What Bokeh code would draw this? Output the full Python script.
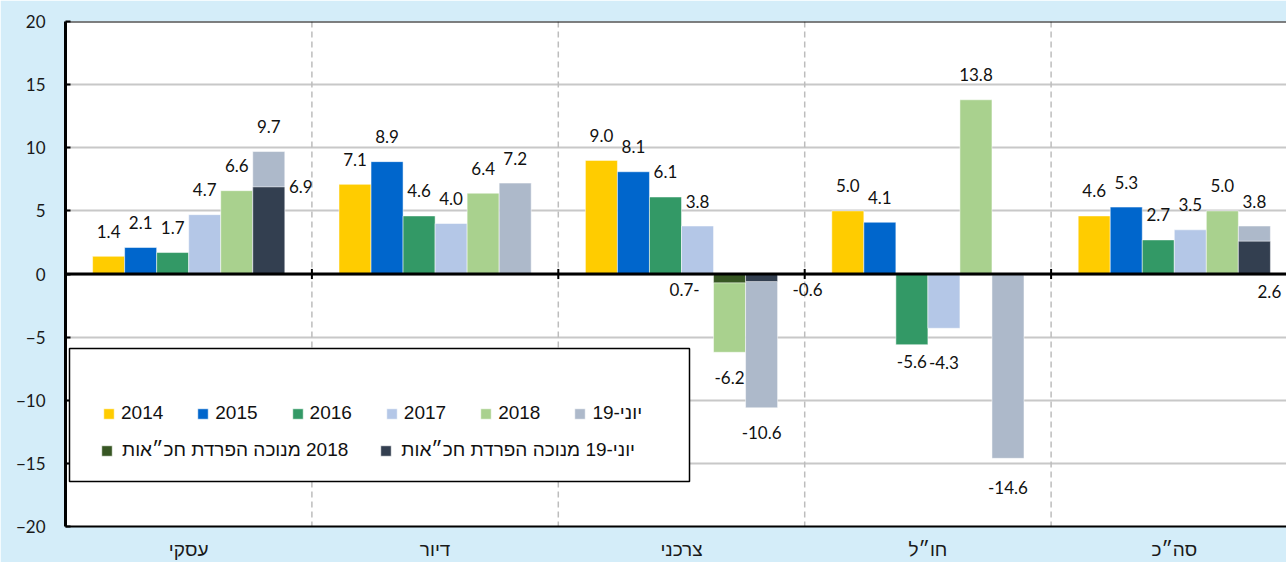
from bokeh.plotting import figure
from bokeh.models import Range1d, FixedTicker, Span, BoxAnnotation, Legend, LegendItem, ColumnDataSource
from bokeh.core.properties import value
from bokeh.embed import file_html
from bokeh.resources import INLINE

# ---------------- data ----------------
categories = ["עסקי", "דיור", "צרכני", "חו״ל", "סה״כ"]
y2014 = [1.4, 7.1, 9.0, 5.0, 4.6]
y2015 = [2.1, 8.9, 8.1, 4.1, 5.3]
y2016 = [1.7, 4.6, 6.1, -5.6, 2.7]
y2017 = [4.7, 4.0, 3.8, -4.3, 3.5]
y2018 = [6.6, 6.4, -6.2, 13.8, 5.0]
jun19 = [9.7, 7.2, -10.6, -14.6, 3.8]
y2018_adj = [None, None, -0.7, None, None]
jun19_adj = [6.9, None, -0.6, None, 2.6]
y_ticks = [-20, -15, -10, -5, 0, 5, 10, 15, 20]

base_names = ["2014", "2015", "2016", "2017", "2018", "יוני-19"]
adj_names = ["\u200f2018 מנוכה הפרדת חכ״אות", "יוני-19 מנוכה הפרדת חכ״אות"]

# ---------------- styles / layout ----------------
base_colors = ["#FFCC00", "#0066CC", "#339966", "#B4C7E7", "#A9D18E", "#ADB9CA"]
adj_colors = ["#375623", "#333F50"]
BG = "#D4EDF9"
FRAME_L, FRAME_T, FRAME_B, W, H = 65, 21, 526, 1286, 562
CAT_PX = 246.4
X_END = (W - FRAME_L) / CAT_PX
PX_PER_UNIT = (FRAME_B - FRAME_T) / 40.0
BAR_W = 0.13
NUM_FONT = "Lato"
HEB_FONT = "Liberation Sans"

def px_x(px):
    return (px - FRAME_L) / CAT_PX

def px_y(py):
    return 20 - (py - FRAME_T) / PX_PER_UNIT

# special label offsets (series key, category index) -> (dx, dy) in px
label_offsets = {
    ("adj1", 0): (32, 0),
    ("adj0", 2): (-45, 7),
    ("adj1", 2): (46, 8),
    ("adj1", 4): (15, 50),
    ("b2", 3): (0, 17),
    ("b3", 3): (0, 34),
    ("b5", 3): (0, 29),
}

p = figure(width=W, height=H, x_range=Range1d(0, X_END), y_range=Range1d(-20, 20),
           output_backend="svg", toolbar_location=None,
           min_border_left=FRAME_L, min_border_right=0, min_border_top=FRAME_T,
           min_border_bottom=H - FRAME_B)
p.border_fill_color = BG
p.background_fill_color = "white"
p.outline_line_color = None

# grid
p.xgrid.grid_line_color = None
p.ygrid.ticker = FixedTicker(ticks=y_ticks)
p.ygrid.grid_line_color = "#C8C8C8"
p.ygrid.grid_line_width = 2

# y axis
p.yaxis.ticker = FixedTicker(ticks=y_ticks)
p.yaxis.axis_line_color = "black"
p.yaxis.axis_line_width = 3
p.yaxis.major_tick_in = 5
p.yaxis.major_tick_out = 0
p.yaxis.major_tick_line_color = "black"
p.yaxis.major_tick_line_width = 2
p.yaxis.minor_tick_line_color = None
p.yaxis.major_label_text_font = NUM_FONT
p.yaxis.major_label_text_font_size = "17px"
p.yaxis.major_label_text_color = "#1a1a1a"
p.yaxis.major_label_standoff = 20

# x axis (category labels)
centers = [i + 0.5 for i in range(len(categories))]
p.xaxis.ticker = FixedTicker(ticks=centers)
p.xaxis.major_label_overrides = {c: name for c, name in zip(centers, categories)}
p.xaxis.axis_line_color = "black"
p.xaxis.axis_line_width = 2
p.xaxis.major_tick_line_color = None
p.xaxis.major_tick_in = 0
p.xaxis.major_tick_out = 0
p.xaxis.minor_tick_line_color = None
p.xaxis.minor_tick_in = 0
p.xaxis.minor_tick_out = 0
p.xaxis.major_label_text_font = HEB_FONT
p.xaxis.major_label_text_font_size = "19px"
p.xaxis.major_label_text_color = "#1a1a1a"
p.xaxis.major_label_standoff = 12

# vertical dashed separators between categories
for b in range(1, len(categories)):
    p.add_layout(Span(location=b, dimension="height", line_color="#BDBDBD",
                      line_width=1.5, line_dash="6 4", level="underlay"))

# top border
p.add_layout(Span(location=20, dimension="width", line_color="black", line_width=2))

def xpos(slot):
    return [i + 0.5 + (slot - 2.5) * BAR_W for i in range(len(categories))]

labels = {"x": [], "y": [], "text": [], "xo": [], "yo": []}

def add_series(key, slot, vals, color, rtl=False):
    xs, ys, idx = [], [], []
    for i, (x, v) in enumerate(zip(xpos(slot), vals)):
        if v is None:
            continue
        xs.append(x); ys.append(v); idx.append(i)
    r = p.vbar(x=xs, top=ys, bottom=0, width=BAR_W, fill_color=color,
               line_color="white", line_width=0.5)
    for x, v, i in zip(xs, ys, idx):
        dx, dy = label_offsets.get((key, i), (0, -25 if v >= 0 else 25))
        t = f"{v:.1f}"
        if rtl:
            t = "\u200f" + t
        labels["x"].append(x); labels["y"].append(v); labels["text"].append(t)
        labels["xo"].append(dx); labels["yo"].append(dy)
    return r

base_series = [y2014, y2015, y2016, y2017, y2018, jun19]
base_r = [add_series(f"b{k}", k, vals, c) for k, (vals, c) in enumerate(zip(base_series, base_colors))]
adj_r = [add_series("adj0", 4, y2018_adj, adj_colors[0], rtl=True),
         add_series("adj1", 5, jun19_adj, adj_colors[1])]

# zero line
p.add_layout(Span(location=0, dimension="width", line_color="black", line_width=3))
p.segment(x0=list(range(1, len(categories))), x1=list(range(1, len(categories))),
          y0=-0.4, y1=0.4, line_color="black", line_width=2)

# data labels
src = ColumnDataSource(dict(x=labels["x"], y=labels["y"], text=labels["text"],
                            xo=labels["xo"], yo=labels["yo"]))
p.text(x="x", y="y", text="text", x_offset="xo", y_offset="yo", source=src,
       text_font=value(NUM_FONT), text_font_size="17px", text_align="center",
       text_baseline="middle", text_color="#111111")

# legend frame
p.add_layout(BoxAnnotation(left=px_x(69), right=px_x(689), top=px_y(348), bottom=px_y(481),
                           fill_color="white", fill_alpha=1.0, line_color="black",
                           line_width=1.5, line_alpha=1.0))

def make_legend(items, loc, spacing, standoff):
    lg = Legend(items=items, location=loc, orientation="horizontal",
                glyph_width=13, glyph_height=13, label_height=20,
                label_standoff=standoff, spacing=spacing, padding=0, margin=0,
                border_line_color=None, background_fill_alpha=0,
                label_text_font=HEB_FONT, label_text_font_size="19px",
                label_text_color="#111111")
    return lg

row1 = make_legend([LegendItem(label=n, renderers=[r]) for n, r in zip(base_names, base_r)],
                   (102 - FRAME_L, FRAME_B - 424), 33, 6)
row2 = make_legend([LegendItem(label=n, renderers=[r]) for n, r in zip(adj_names, adj_r)],
                   (100 - FRAME_L, FRAME_B - 461), 31, 9)
p.add_layout(row1, "center")
p.add_layout(row2, "center")

open("out.html", "w").write(file_html(p, INLINE))
